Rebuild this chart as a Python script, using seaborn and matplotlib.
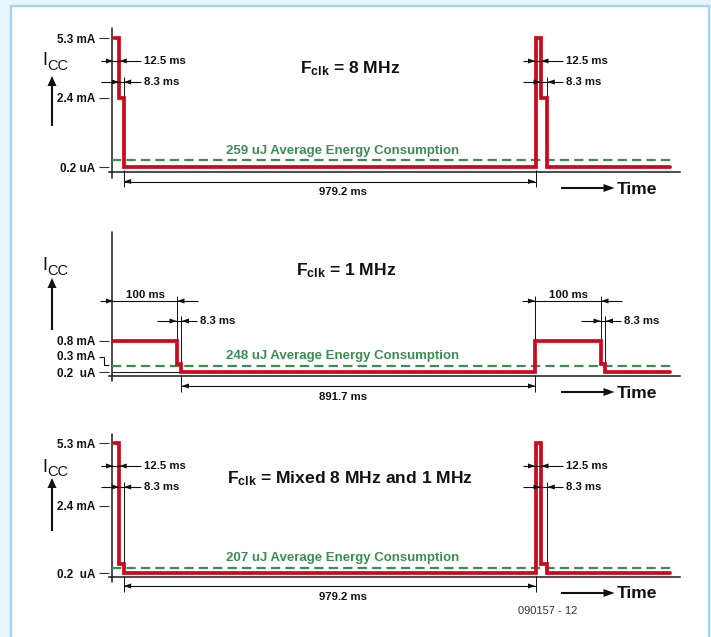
import numpy as np
import pandas as pd
import matplotlib
matplotlib.use('Agg')
import matplotlib.pyplot as plt
import seaborn as sns
from matplotlib import font_manager
from matplotlib.patches import Rectangle

# ---- values (one period = 1000 ms) ----
f_clk = ['8 MHz', '1 MHz', 'Mixed 8 MHz and 1 MHz']
# active, tail and sleep phase of each period
phase_ms = [[12.5, 8.3, 979.2], [100, 8.3, 891.7], [12.5, 8.3, 979.2]]
phase_mA = [[5.3, 2.4, 0.0002], [0.8, 0.3, 0.0002], [5.3, 0.3, 0.0002]]
tick_mA = [[5.3, 2.4, 0.0002], [0.8, 0.0002], [5.3, 2.4, 0.0002]]
tick_txt = [['5.3 mA', '2.4 mA', '0.2 uA'], ['0.8 mA', '0.2  uA'], ['5.3 mA', '2.4 mA', '0.2  uA']]
energy_uJ = [259, 248, 207]
fig_code = '090157 - 12'

# ---- layout (pixels from the top left corner) ----
W, H = 711, 637
AX_L, AX_R = 108.5, 680
panel_top = [28, 232, 434]
panel_bot = [178, 381, 582]
base_px = [171.5, 375.5, 576.5]
# the diagram is not to scale: where each edge of the waveform sits
edge_px = [[113.5, 119.3, 123.7, 535.5, 541, 547.3],
           [113.5, 177, 181.5, 535.5, 601, 605.5],
           [113.5, 119.3, 123.7, 535.5, 541, 547.3]]
# where each current value sits, lowest value first
level_px = [[167.5, 160.5, 98, 38.5],
            [372, 366, 363.5, 340.5],
            [573, 568.3, 564, 506, 443.3]]
dim_y = [[61, 82, 181.5], [301, 321, 386], [466, 487, 586]]
title_xy = [(350, 73), (346, 275.5), (350, 483)]
icc_base = [65, 270, 471.5]
up_arrow = [(126, 76), (330, 278), (531, 478)]

RED = '#cc0a1e'
GREEN = '#3c8d53'
INK = '#111111'

names = {f.name for f in font_manager.fontManager.ttflist}
if 'Liberation Sans Narrow' in names:
    fam, k = 'Liberation Sans Narrow', 1.0
else:
    fam, k = 'Liberation Sans', 0.84

sns.set_theme(style='white')
plt.rcParams['font.family'] = [fam, 'DejaVu Sans']
plt.rcParams['mathtext.fontset'] = 'custom'
plt.rcParams['mathtext.rm'] = fam
plt.rcParams['mathtext.bf'] = fam + ':bold'
plt.rcParams['mathtext.it'] = fam + ':italic'


def pw(vals, pix):
    # piecewise linear mapping value -> pixel, used as a matplotlib function scale
    vals = np.asarray(vals, float)
    pix = np.asarray(pix, float)
    o = np.argsort(vals)
    vals, pix = vals[o], pix[o]
    j = np.argmax(np.diff(vals))
    s = (pix[j + 1] - pix[j]) / (vals[j + 1] - vals[j])
    big = 1e6
    v = np.r_[vals[0] - big, vals, vals[-1] + big]
    p = np.r_[pix[0] - big * s, pix, pix[-1] + big * s]
    return (lambda a: np.interp(a, v, p)), (lambda a: np.interp(a, p, v))


def px(ax, t, v):
    X, Y = ax.transData.transform((t, v))
    return X, H - Y


fig = plt.figure(figsize=(W / 100, H / 100), dpi=100, facecolor='#e8f4fb')
bg = fig.add_axes([0, 0, 1, 1], zorder=-1)
bg.set_xlim(0, W); bg.set_ylim(H, 0); bg.axis('off')
bg.add_patch(Rectangle((11, 6), 698, 700, facecolor='white', edgecolor='#a3d3ee', lw=1.6))

ov = fig.add_axes([0, 0, 1, 1], zorder=5)
ov.set_xlim(0, W); ov.set_ylim(H, 0); ov.axis('off')


def head(x, y, d, L=7.5, w=5):
    ov.fill([x, x - d * L, x - d * L], [y, y - w / 2, y + w / 2], color=INK, lw=0, zorder=6)


def seg(xs, ys, lw=0.8):
    ov.plot(xs, ys, color=INK, lw=lw, solid_capstyle='butt', zorder=6)


def lab(d):
    return f'{d:g} ms'


dim_kw = dict(fontsize=9.8 * k, fontweight='bold', color=INK)

for i in range(3):
    durs, lvls = phase_ms[i], phase_mA[i]
    avg = sum(l * d for l, d in zip(lvls, durs)) / sum(durs)
    t_edges = np.cumsum([0] + durs + durs[:2])[[0, 1, 2, 3, 4, 5]]
    fx, ix = pw(t_edges, edge_px[i])
    anchors = sorted(set(lvls + tick_mA[i] + [avg]))
    fy, iy = pw(anchors, [-p for p in level_px[i]])
    top, bot = panel_top[i], panel_bot[i]

    ax = fig.add_axes([AX_L / W, 1 - bot / H, (AX_R - AX_L) / W, (bot - top) / H])
    ax.set_xscale('function', functions=(fx, ix))
    ax.set_yscale('function', functions=(fy, iy))
    ax.patch.set_alpha(0)

    t_end = float(ix(670))
    wave = pd.DataFrame({'t': list(t_edges) + [t_end], 'i': lvls * 2 + [lvls[2]]})
    sns.lineplot(data=wave, x='t', y='i', drawstyle='steps-post', estimator=None, sort=False,
                 color=RED, lw=2.7, solid_joinstyle='miter', ax=ax, zorder=3)

    span = AX_R - AX_L
    ax.axhline(avg, xmin=(112 - AX_L) / span, xmax=(672 - AX_L) / span,
               color=GREEN, lw=1.6, dashes=(4.2, 2.3), zorder=2)
    ax.plot([(111.5 - AX_L) / span] * 2, [0, 1], transform=ax.transAxes,
            color='#1a1a1a', lw=1.1, clip_on=False, zorder=1)
    if i == 1:
        ax.plot([float(ix(111.5)), t_edges[2]], [lvls[2]] * 2, color='#1a1a1a', lw=0.8, zorder=1)

    ax.set_xlim(float(ix(AX_L)), float(ix(AX_R)))
    ax.set_ylim(float(iy(-bot)), float(iy(-top)))
    ax.set_xlabel(''); ax.set_ylabel('')
    ax.set_xticks([])
    ax.set_yticks(tick_mA[i], tick_txt[i], fontweight='bold', fontsize=10 * k)
    ax.minorticks_off()
    ax.tick_params(axis='y', direction='out', length=7.5, width=0.8, pad=2.2,
                   color='#333333', labelcolor=INK, left=True)
    for s in ['top', 'right', 'left']:
        ax.spines[s].set_visible(False)
    ax.spines['bottom'].set_position(('axes', (bot - base_px[i]) / (bot - top)))
    ax.spines['bottom'].set_color('#1a1a1a')
    ax.spines['bottom'].set_linewidth(1.1)

    # pixel positions of the waveform, through the axes scales
    ex = [px(ax, t, lvls[0])[0] for t in t_edges]
    ly = [px(ax, 0, l)[1] for l in lvls]
    ay = px(ax, 0, avg)[1]

    # dimension lines of the two pulses
    y1, y2, ys = dim_y[i]
    for p in (0, 3):
        x0, x1, x2 = ex[p], ex[p + 1], ex[p + 2]
        if i != 1:
            seg([x0 - 13, x0 + 27], [y1, y1]); head(x0, y1, 1); head(x1, y1, -1)
            ov.text(x0 + 30, y1, lab(durs[0]), ha='left', va='center', **dim_kw)
            seg([x0 - 13, x0 + 27], [y2, y2]); head(x1, y2, 1); head(x2, y2, -1)
            ov.text(x0 + 30, y2, lab(durs[1]), ha='left', va='center', **dim_kw)
            seg([x2, x2], [y2 - 5.5, ly[1] - 2], lw=0.7)
        else:
            seg([x0 - 13, x1 + 21], [y1, y1]); head(x0, y1, 1); head(x1, y1, -1)
            ov.text((x0 + x1) / 2, y1 - 2.5, lab(durs[0]), ha='center', va='baseline', **dim_kw)
            seg([x1 - 20, x2 + 16], [y2, y2]); head(x1, y2, 1); head(x2, y2, -1)
            ov.text(x2 + 19, y2, lab(durs[1]), ha='left', va='center', **dim_kw)
            seg([x1, x1], [y1 - 5, ly[0] - 2], lw=0.7)
            seg([x2, x2], [y2 - 5, ly[1] - 2], lw=0.7)
            if p == 3:
                seg([x0, x0], [y1 - 5, ly[0] - 2], lw=0.7)

    # sleep phase
    xa, xb = ex[2], ex[3]
    seg([xa, xb], [ys, ys]); head(xa, ys, -1); head(xb, ys, 1)
    seg([xa, xa], [ly[2] + 2.5, ys + 5.5], lw=0.7)
    seg([xb, xb], [ly[2] + 2.5, ys + 5.5], lw=0.7)
    ov.text(343, ys + 13.5, lab(durs[2]), ha='center', va='baseline', **dim_kw)

    # average energy
    ov.text(343, ay - 6.8, f'{energy_uJ[i]} uJ Average Energy Consumption', color=GREEN,
            fontsize=11.4 * k, fontweight='bold', ha='center', va='baseline')

    # title, Icc and Time
    tx, tb = title_xy[i]
    ov.text(tx, tb, r'$\mathbf{F_{clk}}$ = ' + f_clk[i], ha='center', va='baseline',
            fontsize=15 * k, fontweight='bold', color=INK)
    ov.text(42.5, icc_base[i], 'I', fontsize=15.5 * k, color=INK, va='baseline')
    ov.text(47, icc_base[i] + 5, 'CC', fontsize=12.5 * k, color=INK, va='baseline')
    ab, at = up_arrow[i]
    seg([52, 52], [ab, at + 9], lw=1.5)
    ov.fill([52, 47.5, 56.5], [at, at + 10, at + 10], color=INK, lw=0, zorder=6)

    ty = base_px[i] + 16.5
    seg([561, 604], [ty, ty], lw=1.5)
    head(614.5, ty, 1, L=11, w=8)
    ov.text(617, ty + 5.5, 'Time', fontsize=15 * k, fontweight='bold', va='baseline', color=INK)

    if i == 1:
        # 0.3 mA label with its bent leader
        y03 = ly[1]
        ov.text(95.5, y03 - 7, '0.3 mA', ha='right', va='center', fontsize=10 * k,
                fontweight='bold', color=INK)
        seg([99, 103.5, 103.5, 108.5], [y03 - 7, y03 - 7, y03 + 1.5, y03 + 1.5], lw=0.8)

ov.text(548, 611, fig_code, ha='center', va='center', fontsize=9.5 * k, color='#333333')

fig.savefig('out.png', dpi=100, facecolor=fig.get_facecolor())
